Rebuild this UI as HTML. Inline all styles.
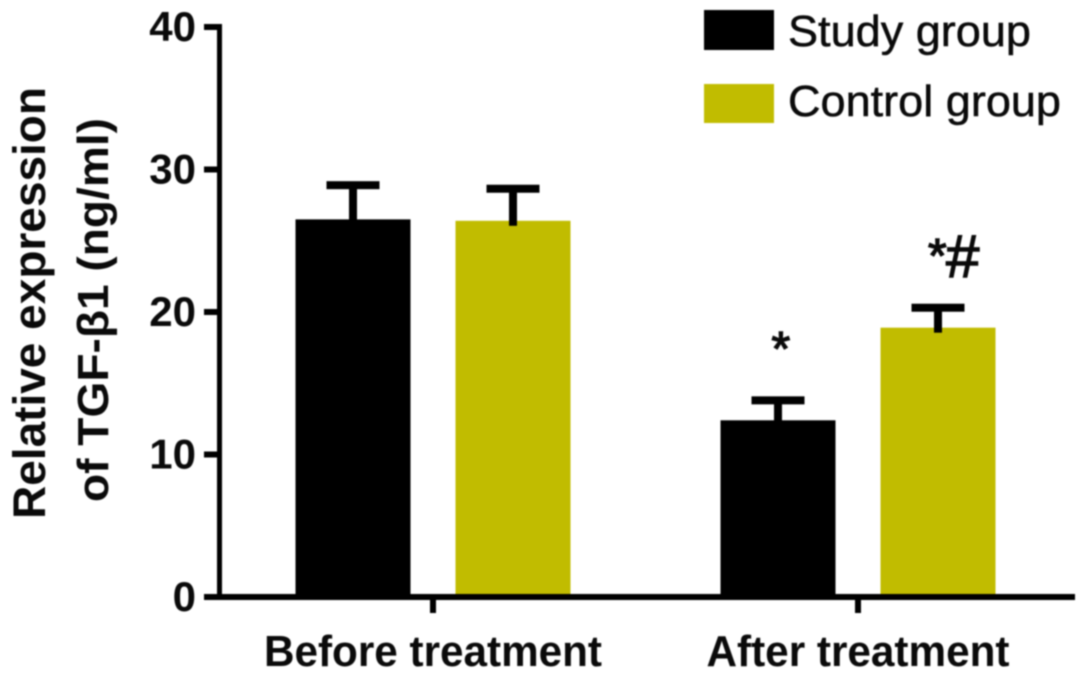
<!DOCTYPE html>
<html lang="en">
<head>
<meta charset="utf-8">
<title>TGF-β1 expression</title>
<style>
html,body{margin:0;padding:0;background:#fff;}
svg{display:block;filter:blur(0.7px);}
text{font-family:"Liberation Sans",sans-serif;fill:#0a0a0a;}
.b{font-weight:bold;}
.thick{stroke:#0a0a0a;stroke-width:0.5px;}
.thicker{stroke:#0a0a0a;stroke-width:1.4px;}
</style>
</head>
<body>
<svg id="chart" xmlns="http://www.w3.org/2000/svg" width="1087" height="680" viewBox="0 0 1087 680">
  <rect width="1087" height="680" fill="#fff"/>
  <g id="bars"></g>
  <g id="errors"></g>
  <g id="axes"></g>
  <g>
    <text class="b" transform="translate(45,519) rotate(-90)" font-size="45" textLength="432" lengthAdjust="spacingAndGlyphs">Relative expression</text>
    <text class="b" transform="translate(108,502) rotate(-90)" font-size="44" textLength="384" lengthAdjust="spacingAndGlyphs">of TGF-β1 (ng/ml)</text>
  </g>
  <g>
    <rect x="704" y="10" width="70" height="40" fill="#000"/>
    <text class="thick" x="788" y="46" font-size="44" textLength="243" lengthAdjust="spacingAndGlyphs">Study group</text>
    <rect x="704" y="84" width="70" height="39" fill="#c1bc00"/>
    <text class="thick" x="788" y="116" font-size="44" textLength="273" lengthAdjust="spacingAndGlyphs">Control group</text>
  </g>
  <text class="thicker" x="771.5" y="365" font-size="48">*</text>
  <text class="thicker" x="928" y="272" font-size="48">*<tspan font-size="60" x="946" y="277">#</tspan></text>
</svg>
<script>
// Chart data
const categories = ["Before treatment", "After treatment"];
const studyValues = [26.5, 12.4];
const controlValues = [26.4, 18.9];
const studyErrorTops = [28.9, 13.8];
const controlErrorTops = [28.65, 20.3];
const yTickValues = [0, 10, 20, 30, 40];

const svgNS = "http://www.w3.org/2000/svg";
const Y_BASE = 597, Y_UNIT = 14.25;
const CATEGORY_CENTER_0 = 433, CATEGORY_STEP = 425;
const BAR_W = 115, STUDY_OFFSET = -80, CONTROL_OFFSET = 80;
function y(v) { return Y_BASE - v * Y_UNIT; }
function xCat(i) { return CATEGORY_CENTER_0 + i * CATEGORY_STEP; }
function make(tag, parentId, attrs) {
  const el = document.createElementNS(svgNS, tag);
  for (const k in attrs) el.setAttribute(k, attrs[k]);
  document.getElementById(parentId).appendChild(el);
  return el;
}

categories.forEach(function (cat, i) {
  const slug = cat.split(" ")[0].toLowerCase();
  const groups = [
    { name: "study", value: studyValues[i], top: studyErrorTops[i], offset: STUDY_OFFSET, fill: "#000" },
    { name: "control", value: controlValues[i], top: controlErrorTops[i], offset: CONTROL_OFFSET, fill: "#c1bc00" }
  ];
  groups.forEach(function (g) {
    const cx = xCat(i) + g.offset;
    const bar = make("rect", "bars", { x: cx - BAR_W / 2, y: y(g.value), width: BAR_W, height: Y_BASE - y(g.value), fill: g.fill });
    
    
    const stem = make("rect", "errors", { x: cx - 4, y: y(g.top), width: 8, height: y(g.value) - y(g.top) + 5, fill: "#000" });
    
    
    const cap = make("rect", "errors", { x: cx - 26.5, y: y(g.top) - 4, width: 53, height: 8, fill: "#000" });
    
    
  });
  const tick = make("rect", "axes", { x: xCat(i) - 3, y: Y_BASE, width: 6, height: 16, fill: "#000" });
  
  
  const label = make("text", "axes", { x: xCat(i), y: 666, "font-size": 44, "text-anchor": "middle", "class": "b", textLength: i === 0 ? 338 : 303, lengthAdjust: "spacingAndGlyphs" });
  label.textContent = cat;
  
  
});

const yAxisLine = make("rect", "axes", { x: 217, y: y(40) - 3, width: 5, height: Y_BASE - y(40) + 6, fill: "#000" });


const xAxisLine = make("rect", "axes", { x: 204, y: Y_BASE - 3, width: 871, height: 6, fill: "#000" });



yTickValues.forEach(function (v) {
  const tick = make("rect", "axes", { x: 204, y: y(v) - 3, width: 15, height: 6, fill: "#000" });
  
  
  const label = make("text", "axes", { x: 196, y: y(v) + 14, "font-size": 42, "text-anchor": "end", "class": "b" });
  label.textContent = v;
  
  
});
</script>
</body>
</html>
